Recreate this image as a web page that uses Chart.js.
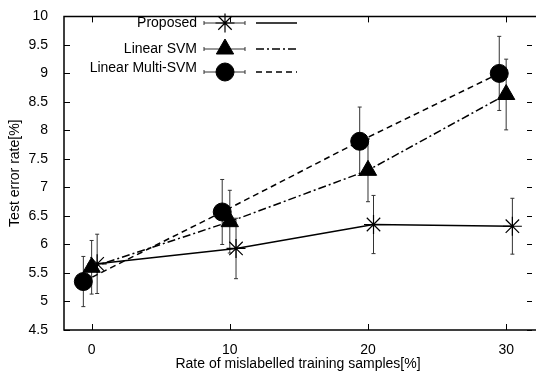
<!DOCTYPE html>
<html>
<head>
<meta charset="UTF-8">
<script src="https://cdn.jsdelivr.net/npm/chart.js"></script>
<style>
  html, body { margin: 0; padding: 0; background: #fff; }
  #wrap { width: 543px; height: 377px; }
</style>
</head>
<body>
<div id="wrap"><canvas id="chart"></canvas></div>
<script>
// values
const seriesNames = ['Proposed', 'Linear SVM', 'Linear Multi-SVM'];
const proposedX = [0.4, 10.45, 20.4, 30.45];
const proposedY = [5.66, 5.93, 6.35, 6.32];
const proposedErr = [0.52, 0.53, 0.51, 0.49];
const svmX = [0, 10, 20, 30];
const svmY = [5.6, 6.4, 7.3, 8.63];
const svmErr = [0.47, 0.55, 0.55, 0.62];
const multiX = [-0.6, 9.45, 19.4, 29.5];
const multiY = [5.35, 6.57, 7.81, 9.0];
const multiErr = [0.44, 0.57, 0.6, 0.65];
const xTicks = [0, 10, 20, 30];
const yTicks = [4.5, 5, 5.5, 6, 6.5, 7, 7.5, 8, 8.5, 9, 9.5, 10];

const FONT = 'Liberation Sans, Arial, sans-serif';
const pts = (xs, ys) => xs.map((x, i) => ({ x: x, y: ys[i] }));
const errs = [proposedErr, svmErr, multiErr];

const errorBars = {
  id: 'errorBars',
  beforeDatasetsDraw(chart) {
    const ctx = chart.ctx, xs = chart.scales.x, ys = chart.scales.y;
    ctx.save();
    ctx.strokeStyle = '#333';
    ctx.lineWidth = 1;
    chart.data.datasets.forEach((ds, d) => {
      ds.data.forEach((p, i) => {
        const px = xs.getPixelForValue(p.x);
        const top = ys.getPixelForValue(p.y + errs[d][i]);
        const bot = ys.getPixelForValue(p.y - errs[d][i]);
        ctx.beginPath();
        ctx.moveTo(px, top); ctx.lineTo(px, bot);
        ctx.moveTo(px - 2, top); ctx.lineTo(px + 2, top);
        ctx.moveTo(px - 2, bot); ctx.lineTo(px + 2, bot);
        ctx.stroke();
      });
    });
    ctx.restore();
  }
};

const frame = {
  id: 'frame',
  afterDraw(chart) {
    const ctx = chart.ctx, a = chart.chartArea, xs = chart.scales.x, ys = chart.scales.y;
    ctx.save();
    ctx.strokeStyle = '#000';
    ctx.lineWidth = 1.5;
    // right edge of the box falls just outside the picture
    ctx.beginPath();
    ctx.moveTo(a.right + 4, a.top); ctx.lineTo(a.left, a.top);
    ctx.lineTo(a.left, a.bottom); ctx.lineTo(a.right + 4, a.bottom);
    ctx.stroke();
    ctx.lineWidth = 1;
    ctx.beginPath();
    xTicks.forEach(v => {
      const px = Math.round(xs.getPixelForValue(v)) + 0.5;
      ctx.moveTo(px, a.bottom); ctx.lineTo(px, a.bottom - 6);
      ctx.moveTo(px, a.top); ctx.lineTo(px, a.top + 6);
    });
    yTicks.forEach(v => {
      const py = Math.round(ys.getPixelForValue(v)) + 0.5;
      ctx.moveTo(a.left, py); ctx.lineTo(a.left + 6, py);
      ctx.moveTo(a.right, py); ctx.lineTo(a.right - 5, py);
    });
    ctx.stroke();

    // key
    const rows = [23, 49, 72];
    ctx.font = '14px ' + FONT;
    chart.data.datasets.forEach((ds, i) => {
      const y = rows[i];
      ctx.fillStyle = '#000';
      ctx.textAlign = 'right';
      ctx.textBaseline = 'middle';
      ctx.fillText(ds.label, 197, i === 2 ? y - 4 : y);
      ctx.strokeStyle = '#333';
      ctx.lineWidth = 1;
      ctx.beginPath();
      ctx.moveTo(204, y); ctx.lineTo(245, y);
      ctx.moveTo(204, y - 2); ctx.lineTo(204, y + 2);
      ctx.moveTo(245, y - 2); ctx.lineTo(245, y + 2);
      ctx.stroke();
      ctx.strokeStyle = '#000';
      ctx.fillStyle = '#000';
      ctx.lineWidth = ds.pointBorderWidth;
      Chart.helpers.drawPoint(ctx, {
        pointStyle: ds.pointStyle, radius: ds.pointRadius, rotation: 0, borderWidth: ds.pointBorderWidth
      }, 225, y);
      ctx.lineWidth = 1.5;
      ctx.setLineDash(ds.borderDash || []);
      ctx.beginPath();
      ctx.moveTo(256, y); ctx.lineTo(297, y);
      ctx.stroke();
      ctx.setLineDash([]);
    });
    ctx.restore();
  }
};

new Chart(document.getElementById('chart'), {
  type: 'scatter',
  data: {
    datasets: [
      {
        label: seriesNames[0], data: pts(proposedX, proposedY), showLine: true,
        borderColor: '#000', backgroundColor: '#000', borderWidth: 1.5,
        pointStyle: 'star', pointRadius: 9.5, pointBorderWidth: 1.2, pointBorderColor: '#000'
      },
      {
        label: seriesNames[1], data: pts(svmX, svmY), showLine: true,
        borderColor: '#000', backgroundColor: '#000', borderWidth: 1.5, borderDash: [8, 3, 2, 3],
        pointStyle: 'triangle', pointRadius: 10, pointBorderWidth: 1, pointBackgroundColor: '#000'
      },
      {
        label: seriesNames[2], data: pts(multiX, multiY), showLine: true,
        borderColor: '#000', backgroundColor: '#000', borderWidth: 1.5, borderDash: [6, 4],
        pointStyle: 'circle', pointRadius: 9, pointBorderWidth: 1, pointBackgroundColor: '#000'
      }
    ]
  },
  options: {
    responsive: true,
    maintainAspectRatio: false,
    animation: false,
    layout: { padding: { top: 5, right: 0, left: 0, bottom: 0 } },
    plugins: { legend: { display: false }, tooltip: { enabled: false } },
    scales: {
      x: {
        type: 'linear', min: -2, max: 31.87,
        afterBuildTicks: s => { s.ticks = xTicks.map(v => ({ value: v })); },
        afterFit: s => { s.height = 47; },
        grid: { display: false }, border: { display: false },
        ticks: { color: '#000', font: { family: FONT, size: 14 }, padding: 4, maxRotation: 0 },
        title: { display: true, text: 'Rate of mislabelled training samples[%]', color: '#000',
                 font: { family: FONT, size: 14 }, padding: { top: 2, bottom: 4 } }
      },
      y: {
        type: 'linear', min: 4.5, max: 10,
        afterBuildTicks: s => { s.ticks = yTicks.map(v => ({ value: v })); },
        afterFit: s => { s.width = 64; },
        grid: { display: false }, border: { display: false },
        ticks: { color: '#000', font: { family: FONT, size: 14 }, padding: 8, callback: v => String(v) },
        title: { display: true, text: 'Test error rate[%]', color: '#000',
                 font: { family: FONT, size: 14 }, padding: { top: 7, bottom: 4 } }
      }
    }
  },
  plugins: [errorBars, frame]
});
</script>
</body>
</html>
